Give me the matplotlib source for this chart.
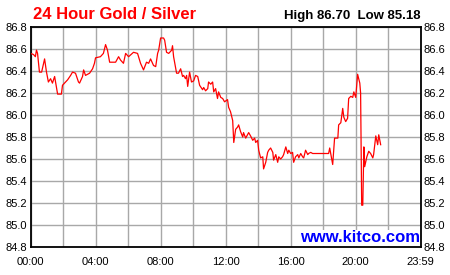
import matplotlib
matplotlib.use('Agg')
import matplotlib.pyplot as plt

plt.rcParams['font.family'] = ['Liberation Sans', 'DejaVu Sans']

title = '24 Hour Gold / Silver'
high_low = 'High 86.70  Low 85.18'
site = 'www.kitco.com'

times = [
    '00:00', '00:11', '00:18', '00:22', '00:26', '00:33', '00:41', '00:52', '00:59', '01:06',
    '01:14', '01:21', '01:29', '01:40', '01:54', '01:58', '02:17', '02:28', '02:35', '02:46',
    '02:57', '03:01', '03:12', '03:16', '03:23', '03:38', '03:49', '03:56', '04:00', '04:18',
    '04:29', '04:37', '04:44', '04:52', '05:14', '05:25', '05:32', '05:43', '05:51', '06:02',
    '06:20', '06:35', '06:46', '06:57', '07:08', '07:16', '07:23', '07:34', '07:42', '07:49',
    '07:53', '08:00', '08:11', '08:15', '08:22', '08:30', '08:41', '08:44', '08:48', '08:59',
    '09:06', '09:14', '09:21', '09:25', '09:32', '09:36', '09:40', '09:47', '09:54', '10:02',
    '10:09', '10:17', '10:24', '10:35', '10:39', '10:46', '10:54', '10:57', '11:05', '11:12',
    '11:16', '11:23', '11:30', '11:34', '11:42', '11:49', '11:56', '12:07', '12:11', '12:18',
    '12:26', '12:30', '12:37', '12:44', '12:48', '12:55', '13:03', '13:06', '13:14', '13:25',
    '13:32', '13:40', '13:47', '13:51', '13:58', '14:02', '14:09', '14:17', '14:20', '14:28',
    '14:35', '14:39', '14:46', '14:54', '14:57', '15:05', '15:12', '15:16', '15:23', '15:30',
    '15:34', '15:42', '15:49', '15:53', '16:00', '16:07', '16:11', '16:18', '16:26', '16:30',
    '16:37', '16:44', '16:48', '16:55', '17:03', '17:06', '17:14', '17:21', '18:20', '18:24',
    '18:35', '18:42', '18:54', '18:57', '19:05', '19:12', '19:16', '19:23', '19:30', '19:34',
    '19:42', '19:49', '19:53', '20:00', '20:07', '20:15', '20:18', '20:22', '20:26', '20:30',
    '20:33', '20:41', '20:48', '20:55', '21:03', '21:06', '21:14', '21:21', '21:25', '21:32',
]
ratio = [
    86.56, 86.55, 86.53, 86.59, 86.56, 86.39, 86.39, 86.51, 86.39, 86.30,
    86.33, 86.29, 86.35, 86.19, 86.19, 86.27, 86.32, 86.36, 86.39, 86.38,
    86.30, 86.29, 86.35, 86.41, 86.36, 86.38, 86.42, 86.47, 86.52, 86.53,
    86.56, 86.64, 86.59, 86.48, 86.48, 86.53, 86.50, 86.47, 86.56, 86.53,
    86.57, 86.56, 86.47, 86.41, 86.48, 86.47, 86.51, 86.45, 86.44, 86.56,
    86.59, 86.70, 86.70, 86.68, 86.57, 86.56, 86.59, 86.63, 86.53, 86.38,
    86.38, 86.42, 86.35, 86.36, 86.33, 86.36, 86.26, 86.39, 86.30, 86.31,
    86.36, 86.35, 86.27, 86.23, 86.25, 86.22, 86.24, 86.30, 86.28, 86.30,
    86.21, 86.24, 86.15, 86.21, 86.16, 86.15, 86.12, 86.14, 86.07, 86.03,
    85.95, 85.75, 85.87, 85.89, 85.91, 85.85, 85.80, 85.84, 85.79, 85.84,
    85.81, 85.77, 85.79, 85.75, 85.77, 85.68, 85.61, 85.62, 85.51, 85.57,
    85.66, 85.68, 85.70, 85.66, 85.59, 85.64, 85.57, 85.62, 85.60, 85.62,
    85.64, 85.71, 85.65, 85.68, 85.65, 85.66, 85.57, 85.62, 85.64, 85.61,
    85.65, 85.62, 85.61, 85.68, 85.64, 85.65, 85.66, 85.65, 85.65, 85.70,
    85.55, 85.79, 85.79, 85.91, 85.93, 86.06, 85.98, 85.94, 85.97, 86.15,
    86.17, 86.16, 86.21, 86.16, 86.37, 86.29, 86.20, 85.18, 85.18, 85.71,
    85.53, 85.62, 85.67, 85.65, 85.61, 85.64, 85.81, 85.73, 85.82, 85.73,
]

y_ticks = [84.8, 85.0, 85.2, 85.4, 85.6, 85.8, 86.0, 86.2, 86.4, 86.6, 86.8]


def to_hours(s):
    h, m = s.split(':')
    return int(h) + int(m) / 60


hours = [to_hours(t) for t in times]
x_end = to_hours('23:59')

fig = plt.figure(figsize=(4.5, 2.75), dpi=100)
ax = fig.add_axes([30.5 / 450, 28 / 275, 390 / 450, 220 / 275])

ax.plot(hours, ratio, color='#ff0000', lw=0.9, zorder=3)

ax.set_xlim(0, x_end)
ax.set_ylim(84.8, 86.8)

# grid every 2 h, labels every 4 h
grid_x = list(range(0, 24, 2)) + [x_end]
ax.set_xticks(grid_x)
lab = []
for g in grid_x:
    if g == x_end:
        lab.append('23:59')
    elif g % 4 == 0:
        lab.append('%02d:00' % g)
    else:
        lab.append('')
ax.set_xticklabels(lab)
ax.set_yticks(y_ticks)
ax.set_yticklabels(['%.1f' % v for v in y_ticks])

ax.grid(True, color='#a8a8a8', lw=1.0, zorder=0)
ax.set_axisbelow(True)
ax.tick_params(axis='both', length=0, labelsize=8, colors='black')
ax.tick_params(axis='y', labelright=True, pad=2.5)
ax.tick_params(axis='x', pad=7.5)
for sp in ax.spines.values():
    sp.set_color('black')
    sp.set_linewidth(1.3)

fig.text(33 / 450, 1 - 19 / 275, title, color='#ff0000', fontsize=12,
         fontweight='bold', ha='left', va='baseline')
fig.text(420 / 450, 1 - 19 / 275, high_low, color='black', fontsize=9.5,
         fontweight='bold', ha='right', va='baseline')
ax.text(0.998, 0.008, site, transform=ax.transAxes, color='#0000ff',
        fontsize=12, fontweight='bold', ha='right', va='bottom', zorder=4,
        bbox=dict(facecolor='white', edgecolor='none', pad=0.3))

fig.savefig('out.png', dpi=100, facecolor='white')
